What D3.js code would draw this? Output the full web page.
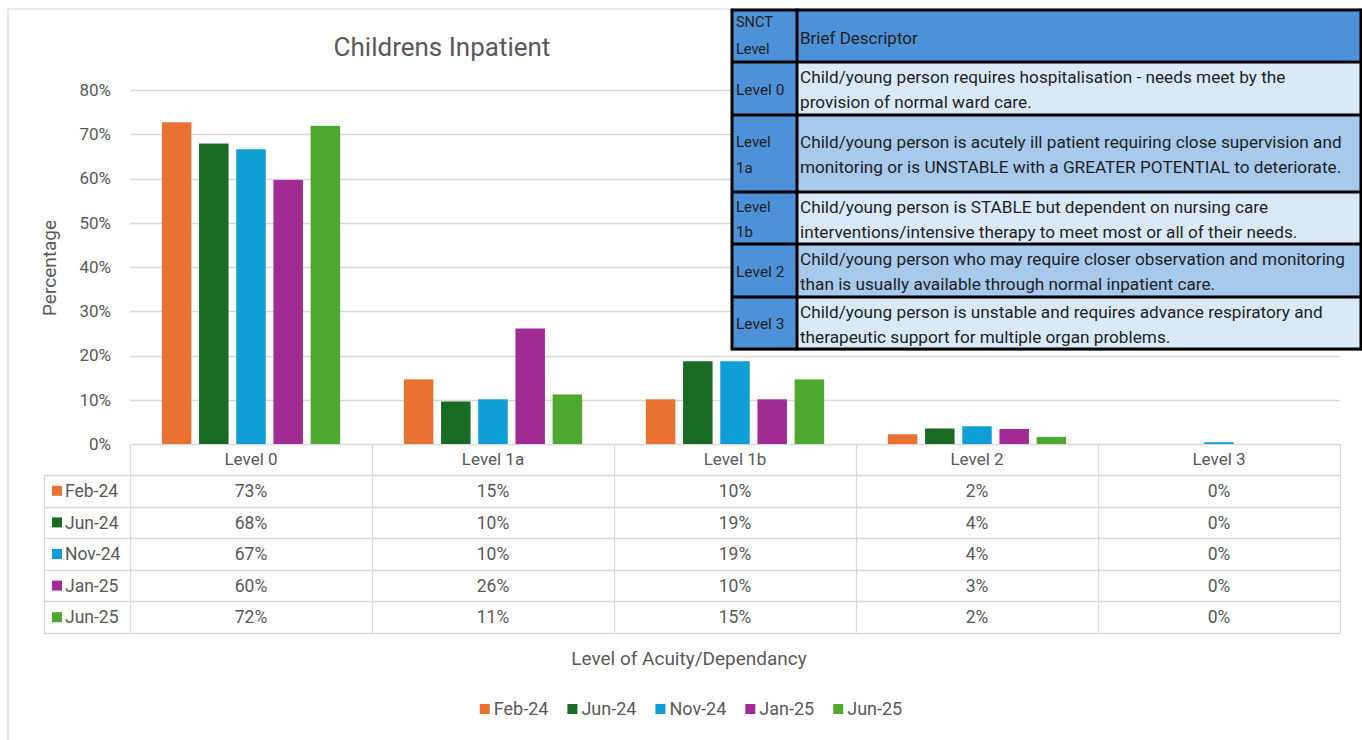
<!DOCTYPE html>
<html>
<head>
<meta charset="utf-8">
<script src="https://cdn.jsdelivr.net/npm/d3@7"></script>
<style>
  body { margin: 0; background: #fff; }
  svg { display: block; font-family: "Roboto", sans-serif; }
</style>
</head>
<body>
<div id="chart"></div>
<script>
// categories and series
var categories = ["Level 0", "Level 1a", "Level 1b", "Level 2", "Level 3"];
var seriesNames = ["Feb-24", "Jun-24", "Nov-24", "Jan-25", "Jun-25"];
var feb24 = [72.7, 14.6, 10.1, 2.2, 0];
var jun24 = [67.9, 9.6, 18.7, 3.5, 0];
var nov24 = [66.6, 10.1, 18.7, 4.0, 0.4];
var jan25 = [59.7, 26.1, 10.1, 3.4, 0];
var jun25 = [71.9, 11.2, 14.6, 1.6, 0];
var yTicks = [0, 10, 20, 30, 40, 50, 60, 70, 80];

// SNCT descriptor table
var snctLevels = [["Level 0"], ["Level", "1a"], ["Level", "1b"], ["Level 2"], ["Level 3"]];
var snctText = [
  ["Child/young person requires hospitalisation - needs meet by the", "provision of normal ward care."],
  ["Child/young person is acutely ill patient requiring close supervision and", "monitoring or is UNSTABLE with a GREATER POTENTIAL to deteriorate."],
  ["Child/young person is STABLE but dependent on nursing care", "interventions/intensive therapy to meet most or all of their needs."],
  ["Child/young person who may require closer observation and monitoring", "than is usually available through normal inpatient care."],
  ["Child/young person is unstable and requires advance respiratory and", "therapeutic support for multiple organ problems."]
];

var seriesValues = [feb24, jun24, nov24, jan25, jun25];
var colors = ["#E97132", "#196B24", "#0F9ED5", "#A02B93", "#4EA72E"];

var width = 1362, height = 740;
var textColor = "#595959";

var svg = d3.select("#chart").append("svg")
    .attr("width", width)
    .attr("height", height);

svg.append("rect").attr("width", width).attr("height", height).attr("fill", "#fff");

// chart frame
svg.append("path")
    .attr("d", "M8," + height + "V9H" + width)
    .attr("fill", "none")
    .attr("stroke", "#d9d9d9")
    .attr("stroke-width", 1.2);

// scales
var plotLeft = 130, plotRight = 1340;
var y = d3.scaleLinear().domain([0, 80]).range([444, 90]);
var x0 = d3.scaleBand().domain(categories).range([plotLeft, plotRight]);
var x1 = d3.scaleBand().domain(seriesNames).range([0, x0.bandwidth()])
    .paddingInner(0.207).paddingOuter(0.857);
var color = d3.scaleOrdinal().domain(seriesNames).range(colors);

// title
svg.append("text")
    .attr("x", 442).attr("y", 56)
    .attr("text-anchor", "middle")
    .attr("font-size", 26)
    .attr("fill", textColor)
    .text("Childrens Inpatient");

// gridlines
svg.append("g").selectAll("line")
    .data(yTicks)
    .enter().append("line")
    .attr("x1", plotLeft).attr("x2", plotRight)
    .attr("y1", function(d) { return Math.round(y(d)) + 0.5; })
    .attr("y2", function(d) { return Math.round(y(d)) + 0.5; })
    .attr("stroke", "#d9d9d9")
    .attr("stroke-width", 1.3);

// y tick labels
svg.append("g").selectAll("text")
    .data(yTicks)
    .enter().append("text")
    .attr("x", 111)
    .attr("y", function(d) { return y(d); })
    .attr("dy", "0.35em")
    .attr("text-anchor", "end")
    .attr("font-size", 17)
    .attr("fill", textColor)
    .text(function(d) { return d + "%"; });

// y axis title
svg.append("text")
    .attr("transform", "translate(56,268) rotate(-90)")
    .attr("text-anchor", "middle")
    .attr("font-size", 19)
    .attr("fill", textColor)
    .text("Percentage");

// bars
var groups = svg.append("g").selectAll("g")
    .data(categories)
    .enter().append("g")
    .attr("transform", function(d) { return "translate(" + x0(d) + ",0)"; });

groups.selectAll("rect")
    .data(function(d, i) {
      return seriesNames.map(function(s, j) { return {series: s, value: seriesValues[j][i]}; });
    })
    .enter().append("rect")
    .attr("x", function(d) { return x1(d.series); })
    .attr("width", x1.bandwidth())
    .attr("y", function(d) { return y(d.value); })
    .attr("height", function(d) { return y(0) - y(d.value); })
    .attr("fill", function(d) { return color(d.series); });

// data table under the axis
var tableTop = 444, headerBottom = 475, tableBottom = 633, tableLeft = 44;
var rowH = (tableBottom - headerBottom) / seriesNames.length;
var table = svg.append("g");
var lineColor = "#d9d9d9";

// horizontal lines
d3.range(seriesNames.length + 1).forEach(function(i) {
  var yy = Math.round(headerBottom + i * rowH) + 0.5;
  table.append("line")
      .attr("x1", tableLeft).attr("x2", plotRight)
      .attr("y1", yy).attr("y2", yy)
      .attr("stroke", lineColor).attr("stroke-width", 1.3);
});
// vertical lines
var vx = categories.map(function(c) { return x0(c); }).concat([plotRight]);
vx.forEach(function(xx) {
  table.append("line")
      .attr("x1", Math.round(xx) + 0.5).attr("x2", Math.round(xx) + 0.5)
      .attr("y1", tableTop).attr("y2", tableBottom)
      .attr("stroke", lineColor).attr("stroke-width", 1.3);
});
table.append("line")
    .attr("x1", tableLeft + 0.5).attr("x2", tableLeft + 0.5)
    .attr("y1", headerBottom).attr("y2", tableBottom)
    .attr("stroke", lineColor).attr("stroke-width", 1.3);

// category labels
table.selectAll("text.cat")
    .data(categories)
    .enter().append("text")
    .attr("class", "cat")
    .attr("x", function(d) { return x0(d) + x0.bandwidth() / 2; })
    .attr("y", (tableTop + headerBottom) / 2)
    .attr("dy", "0.35em")
    .attr("text-anchor", "middle")
    .attr("font-size", 17)
    .attr("fill", textColor)
    .text(function(d) { return d; });

// rows
seriesNames.forEach(function(s, j) {
  var cy = headerBottom + (j + 0.5) * rowH;
  table.append("rect")
      .attr("x", 52).attr("y", cy - 5)
      .attr("width", 10).attr("height", 10)
      .attr("fill", color(s));
  table.append("text")
      .attr("x", 65).attr("y", cy)
      .attr("dy", "0.35em")
      .attr("font-size", 17.5)
      .attr("fill", textColor)
      .text(s);
  categories.forEach(function(c, i) {
    table.append("text")
        .attr("x", x0(c) + x0.bandwidth() / 2)
        .attr("y", cy)
        .attr("dy", "0.35em")
        .attr("text-anchor", "middle")
        .attr("font-size", 17.5)
        .attr("fill", textColor)
        .text(Math.round(seriesValues[j][i]) + "%");
  });
});

// x axis title
svg.append("text")
    .attr("x", 689).attr("y", 658)
    .attr("dy", "0.35em")
    .attr("text-anchor", "middle")
    .attr("font-size", 19)
    .attr("fill", textColor)
    .text("Level of Acuity/Dependancy");

// legend
var legend = svg.append("g");
var lx = 0, legendGap = 19;
seriesNames.forEach(function(s) {
  var item = legend.append("g").attr("transform", "translate(" + lx + ",0)");
  item.append("rect").attr("x", 0).attr("y", -5).attr("width", 10).attr("height", 10).attr("fill", color(s));
  var t = item.append("text")
      .attr("x", 14).attr("y", 0)
      .attr("dy", "0.35em")
      .attr("font-size", 18)
      .attr("fill", textColor)
      .text(s);
  lx += 14 + t.node().getComputedTextLength() + legendGap;
});
legend.attr("transform", "translate(" + (691 - (lx - legendGap) / 2) + ",709)");

// SNCT descriptor table (overlay)
var ov = svg.append("g");
var ovLeft = 732, ovMid = 797, ovRight = 1361;
var rowEdges = [10, 62, 115, 192, 244, 297, 349];
var headFill = "#4D91D8", lightFill = "#DAE9F8", midFill = "#A6C9EC";
var descFills = [lightFill, midFill, lightFill, midFill, lightFill];
var darkText = "#1f1f1f";

ov.append("rect")
    .attr("x", ovLeft + 2).attr("y", rowEdges[0] + 2)
    .attr("width", ovRight - ovLeft).attr("height", rowEdges[6] - rowEdges[0])
    .attr("fill", "#bfbfbf");
ov.append("rect")
    .attr("x", ovLeft).attr("y", rowEdges[0])
    .attr("width", ovRight - ovLeft).attr("height", rowEdges[1] - rowEdges[0])
    .attr("fill", headFill);
snctLevels.forEach(function(lv, i) {
  ov.append("rect")
      .attr("x", ovLeft).attr("y", rowEdges[i + 1])
      .attr("width", ovMid - ovLeft).attr("height", rowEdges[i + 2] - rowEdges[i + 1])
      .attr("fill", headFill);
  ov.append("rect")
      .attr("x", ovMid).attr("y", rowEdges[i + 1])
      .attr("width", ovRight - ovMid).attr("height", rowEdges[i + 2] - rowEdges[i + 1])
      .attr("fill", descFills[i]);
});

// header text
ov.append("text").attr("x", 736).attr("y", 22).attr("dy", "0.35em")
    .attr("font-size", 14.5).attr("fill", darkText).text("SNCT");
ov.append("text").attr("x", 736).attr("y", 49).attr("dy", "0.35em")
    .attr("font-size", 14.5).attr("fill", darkText).text("Level");
ov.append("text").attr("x", 800).attr("y", 38).attr("dy", "0.35em")
    .attr("font-size", 17).attr("fill", darkText).text("Brief Descriptor");

snctLevels.forEach(function(lv, i) {
  var cy = (rowEdges[i + 1] + rowEdges[i + 2]) / 2 + 1;
  lv.forEach(function(line, k) {
    ov.append("text")
        .attr("x", 736)
        .attr("y", lv.length === 1 ? cy : cy + (k - 0.5) * 25.5)
        .attr("dy", "0.35em")
        .attr("font-size", lv.length === 1 ? 15.5 : 15)
        .attr("fill", darkText)
        .text(line);
  });
  snctText[i].forEach(function(line, k) {
    ov.append("text")
        .attr("x", 800)
        .attr("y", cy + (k - 0.5) * 25)
        .attr("dy", "0.35em")
        .attr("font-size", 17.2)
        .attr("fill", darkText)
        .text(line);
  });
});

// black borders
rowEdges.forEach(function(ry) {
  ov.append("line")
      .attr("x1", ovLeft).attr("x2", ovRight)
      .attr("y1", ry).attr("y2", ry)
      .attr("stroke", "#000").attr("stroke-width", 3);
});
[ovLeft, ovMid, ovRight].forEach(function(vxx) {
  ov.append("line")
      .attr("x1", vxx).attr("x2", vxx)
      .attr("y1", rowEdges[0] - 1.5).attr("y2", rowEdges[6] + 1.5)
      .attr("stroke", "#000").attr("stroke-width", 3);
});
</script>
</body>
</html>
